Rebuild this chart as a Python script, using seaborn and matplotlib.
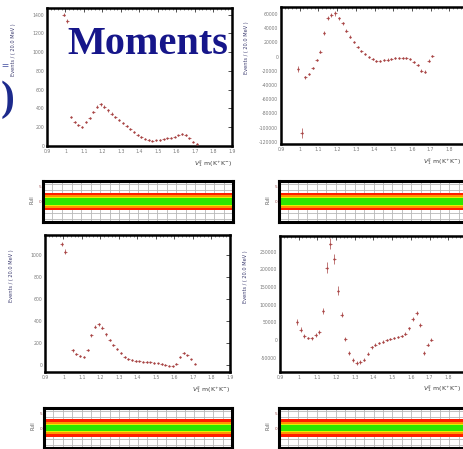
import numpy as np
import pandas as pd
import matplotlib
matplotlib.use('Agg')
import matplotlib.pyplot as plt
import seaborn as sns
from matplotlib.ticker import MultipleLocator, FixedLocator
from matplotlib.transforms import blended_transform_factory

sns.set_theme(style='white')
plt.rcParams['font.family'] = ['DejaVu Sans']

# ---------------- data ----------------
mass_bins = [0.99, 1.01, 1.03, 1.05, 1.07, 1.09, 1.11, 1.13, 1.15, 1.17,
             1.19, 1.21, 1.23, 1.25, 1.27, 1.29, 1.31, 1.33, 1.35, 1.37,
             1.39, 1.41, 1.43, 1.45, 1.47, 1.49, 1.51, 1.53, 1.55, 1.57,
             1.59, 1.61, 1.63, 1.65, 1.67, 1.69, 1.71]

tl_values = [1400, 1330, 306, 253, 225, 205, 260, 300, 360, 420,
             445, 419, 380, 345, 310, 280, 245, 215, 183, 150,
             118, 95, 78, 65, 58, 59, 65, 70, 80, 90,
             100, 112, 128, 118, 80, 45, 25]
tl_errors = [20, 20, 12, 11, 11, 10, 11, 12, 13, 14,
             14, 14, 13, 13, 12, 12, 11, 11, 10, 10,
             9, 9, 8, 8, 8, 8, 8, 8, 8, 8,
             9, 9, 10, 9, 8, 7, 6]

tr_values = [-17000, -108000, -29000, -24400, -16000, -4700, 7000, 33000, 54000, 58700,
             61000, 54000, 47000, 36600, 28200, 21000, 14000, 8500, 3300, -1000,
             -3700, -5600, -5600, -5000, -4000, -3000, -2000, -1400, -2300, -2300,
             -3700, -7000, -11700, -19600, -21000, -5600, 900]
tr_errors = [4000, 7000, 2000, 2000, 2000, 2000, 2000, 2500, 3000, 3000,
             3000, 2500, 2500, 2000, 2000, 1500, 1500, 1500, 1500, 1500,
             1500, 1500, 1500, 1500, 1500, 1500, 1500, 1500, 1500, 1500,
             1500, 1500, 2000, 2500, 2500, 2000, 2000]

bl_values = [1100, 1030, np.nan, 135, 100, 82, 80, 136, 273, 348,
             370, 340, 280, 228, 185, 145, 110, 78, 58, 47,
             40, 36, 34, 30, 27, 22, 18, 13, 5, -3,
             -9, 15, 76, 110, 90, 55, 15]
bl_errors = [20, 20, 0, 10, 10, 9, 9, 10, 12, 13,
             13, 13, 12, 11, 10, 10, 9, 8, 8, 7,
             7, 7, 7, 6, 6, 6, 6, 6, 6, 6,
             6, 6, 8, 9, 8, 7, 6]

br_values = [52000, 30000, 12000, 6000, 5000, 14000, 24000, 83000, 205000, 272000,
             228000, 140000, 72000, 4000, -37000, -56000, -65000, -62000, -55000, -38000,
             -20000, -13000, -8000, -4000, 0, 4000, 7000, 9000, 12000, 18000,
             34000, 60000, 76000, 43000, -37000, -13000, 1000]
br_errors = [9000, 7000, 5000, 4000, 4000, 5000, 6000, 8000, 15000, 15000,
             14000, 12000, 8000, 6000, 5000, 5000, 5000, 5000, 5000, 4000,
             4000, 4000, 3000, 3000, 3000, 3000, 3000, 3000, 3000, 4000,
             4000, 5000, 6000, 5000, 5000, 4000, 4000]

x_ticks = [0.9, 1.0, 1.1, 1.2, 1.3, 1.4, 1.5, 1.6, 1.7, 1.8, 1.9]
x_tick_labels = ['0.9', '1', '1.1', '1.2', '1.3', '1.4', '1.5', '1.6', '1.7', '1.8', '1.9']
tl_yticks = [0, 200, 400, 600, 800, 1000, 1200, 1400]
tr_yticks = [-120000, -100000, -80000, -60000, -40000, -20000, 0, 20000, 40000, 60000]
bl_yticks = [0, 200, 400, 600, 800, 1000]
br_yticks = [-50000, 0, 50000, 100000, 150000, 200000, 250000]

y_title = 'Events / ( 20.0 MeV )'
x_title = r'$V^{2}_{1}$ m(K$^{+}$K$^{-}$)'
pull_title = 'Pull'
banner = 'Moments'

# ---------------- layout ----------------
W, H = 464, 449
fig = plt.figure(figsize=(W / 100, H / 100), dpi=100)
fig.patch.set_facecolor('white')


def box(l, t, r, b):
    return [l / W, 1 - b / H, (r - l) / W, (b - t) / H]


pt_color = '#a84444'
tick_color = '#7a7a7a'


def main_panel(rect, values, errors, ylim, yticks, right_side=False):
    ax = fig.add_axes(box(*rect))
    df = pd.DataFrame({'m': mass_bins, 'v': values, 'e': errors}).dropna()
    ax.errorbar(df['m'], df['v'], yerr=df['e'], xerr=0.007, fmt='none',
                ecolor=pt_color, elinewidth=0.5, capsize=0, zorder=2)
    sns.scatterplot(data=df, x='m', y='v', ax=ax, color=pt_color, s=2.5,
                    marker='o', linewidth=0, zorder=3, legend=False)
    ax.set_xlim(0.9, 1.9)
    ax.set_ylim(*ylim)
    ax.xaxis.set_major_locator(FixedLocator(x_ticks))
    labels = list(x_tick_labels)
    if right_side:
        labels[-1] = ''
    ax.set_xticklabels(labels)
    ax.xaxis.set_minor_locator(MultipleLocator(0.02))
    ax.yaxis.set_major_locator(FixedLocator(yticks))
    ax.set_yticklabels([str(v) for v in yticks])
    ax.tick_params(which='major', direction='in', length=3, width=0.6,
                   top=True, right=True, labelsize=3.3, labelcolor=tick_color,
                   color='#333333', pad=2)
    ax.tick_params(which='minor', direction='in', length=1.5, width=0.4,
                   top=True, right=True, color='#333333')
    for s in ax.spines.values():
        s.set_linewidth(1.8)
        s.set_color('black')
    ax.set_xlabel('')
    ax.set_ylabel(y_title, fontsize=3.6, color='#3c3c70')
    ax.yaxis.set_label_coords(-0.17, 0.70)
    if right_side:
        tr = blended_transform_factory(fig.transFigure, ax.transAxes)
        ax.text(461 / W, -0.125, x_title, transform=tr, ha='right',
                va='center', fontsize=4.5, color='#404040')
    else:
        ax.text(1.0, -0.125, x_title, transform=ax.transAxes, ha='right',
                va='center', fontsize=4.5, color='#404040')
    ax.set_facecolor('white')
    return ax


def pull_panel(rect):
    ax = fig.add_axes(box(*rect))
    ax.set_xlim(0.9, 1.9)
    ax.set_ylim(-7, 7)
    ax.set_facecolor('white')
    for xv in np.arange(0.9, 1.9001, 0.05):
        ax.axvline(xv, color='#b8b8b8', lw=0.6, zorder=0)
    for yv in (-6, -4, 4, 6):
        ax.axhline(yv, color='#b8b8b8', lw=0.6, zorder=0)
    ax.axhspan(-3.0, 3.0, color='#ff1e00', lw=0, zorder=1)
    ax.axhspan(-2.1, 2.1, color='#ff9500', lw=0, zorder=1)
    ax.axhspan(-1.5, 1.5, color='#e6f000', lw=0, zorder=1)
    ax.axhspan(-1.2, 1.2, color='#2ee600', lw=0, zorder=1)
    ax.set_xticks([])
    ax.set_yticks([0, 5])
    ax.set_yticklabels(['0', '5'])
    ax.tick_params(axis='y', direction='in', length=1.5, labelsize=3,
                   labelcolor='#a05050', pad=1.5)
    for s in ax.spines.values():
        s.set_linewidth(2.2)
        s.set_color('black')
    ax.set_ylabel(pull_title, fontsize=3.5, color='#555555')
    ax.yaxis.set_label_coords(-0.045, 0.55)
    return ax


main_panel((47, 8, 232, 146), tl_values, tl_errors, (0, 1470), tl_yticks)
main_panel((281, 7, 468, 144), tr_values, tr_errors, (-123000, 70000), tr_yticks,
           right_side=True)
main_panel((45, 235, 230, 372), bl_values, bl_errors, (-60, 1180), bl_yticks)
main_panel((280, 236, 467, 372), br_values, br_errors, (-90000, 294000), br_yticks,
           right_side=True)

pull_panel((43, 181, 233, 222))
pull_panel((279, 181, 468, 222))
pull_panel((44, 408, 232, 448))
pull_panel((279, 408, 468, 448))

fig.text(67 / W, 1 - 45 / H, banner, ha='left', va='center', fontsize=29,
         fontweight='bold', family='Liberation Serif', color='#16168a', zorder=10)

# fragments of slide glyphs at the left edge
fig.text(1 / W, 1 - 100 / H, ')', ha='left', va='center', fontsize=30,
         fontweight='bold', family='Liberation Serif', color='#1c2a8c')
fig.text(1 / W, 1 - 66 / H, '=', ha='left', va='center', fontsize=9,
         family='Liberation Serif', color='#1c2a8c')

fig.savefig('out.png', dpi=100, facecolor='white')
